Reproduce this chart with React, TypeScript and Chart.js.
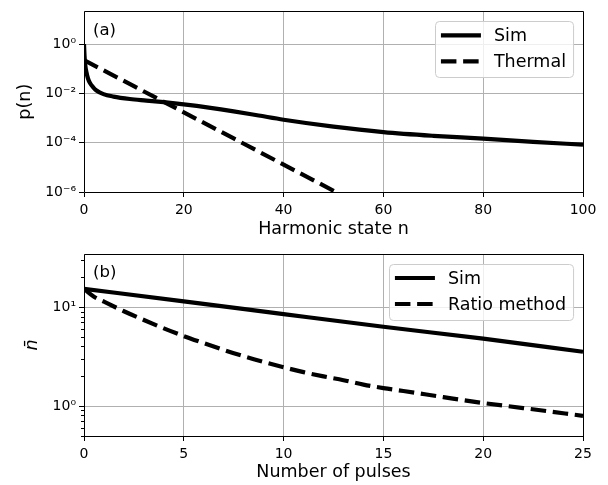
import React, { useEffect, useRef } from "react";
import { Chart, registerables } from "chart.js";

Chart.register(...registerables);
Chart.defaults.font.family = "'DejaVu Sans', sans-serif";
Chart.defaults.color = "#000";

// ---------- Panel (a) data ----------
const harmonicN = [0, 0.1, 0.25, 0.5, 0.8, 1.2, 1.8, 2.5, 3.9, 5.9, 9.2, 12.5, 16, 20, 25, 30, 35, 40, 50, 60, 70, 80, 90, 100];
const simP = [1.0, 0.35, 0.14, 0.07, 0.04, 0.026, 0.018, 0.013, 0.0093, 0.0074, 0.0059, 0.0051, 0.00437, 0.00355, 0.00263, 0.00186, 0.00126, 0.00085, 0.000447, 0.000269, 0.00019, 0.000145, 0.000107, 0.000083];
const thermalN = [0, 10, 20, 30, 40, 50, 60];
const thermalP = [0.22, 0.0195, 0.0017, 0.000148, 0.0000129, 0.00000112, 0.000000098];
const topXTicks = [0, 20, 40, 60, 80, 100];
const topYTicks = [1e-6, 1e-4, 1e-2, 1];
const topYLabels = ["10⁻⁶", "10⁻⁴", "10⁻²", "10⁰"];

// ---------- Panel (b) data ----------
const pulsesSim = [0, 5, 10, 15, 20, 25];
const nbarSim = [15.5, 11.6, 8.6, 6.4, 4.85, 3.57];
const pulsesRatio = [0, 0.5, 1, 2, 3, 4, 5, 6, 7, 8, 9, 10, 11, 12, 13, 14, 15, 16, 18, 20, 22, 25];
const nbarRatio = [15.5, 12.9, 11.5, 9.2, 7.5, 6.17, 5.15, 4.37, 3.73, 3.22, 2.82, 2.49, 2.22, 2.01, 1.84, 1.66, 1.53, 1.43, 1.24, 1.08, 0.96, 0.8];
const botXTicks = [0, 5, 10, 15, 20, 25];
const botYTicks = [1, 10];
const botYLabels = ["10⁰", "10¹"];
const botYMinor = [0.5, 0.6, 0.7, 0.8, 0.9, 2, 3, 4, 5, 6, 7, 8, 9, 20, 30];

const DASH = [15.5, 6.7];
const LW = 4.2;

const al = (v: number) => Math.round(v - 0.5) + 0.5;

function framePlugin(panel: string, legend: { text: string; dash: number[] }[], minorY: number[] | null) {
  return {
    id: "frame" + panel,
    afterDraw(chart: any) {
      const { ctx, chartArea: a } = chart;
      ctx.save();
      ctx.strokeStyle = "#000";
      ctx.lineWidth = 1;
      ctx.setLineDash([]);
      if (minorY) {
        const ys = chart.scales.y;
        ctx.beginPath();
        for (const v of minorY) {
          const py = al(ys.getPixelForValue(v));
          ctx.moveTo(a.left - 3, py);
          ctx.lineTo(a.left, py);
        }
        ctx.stroke();
      }
      // spines
      ctx.beginPath();
      ctx.rect(al(a.left), al(a.top), al(a.right) - al(a.left), al(a.bottom) - al(a.top));
      ctx.stroke();

      // panel label
      ctx.font = "16.5px 'DejaVu Sans'";
      ctx.fillStyle = "#000";
      ctx.textBaseline = "middle";
      ctx.textAlign = "left";
      ctx.fillText(panel, a.left + 9, a.top + 19);

      // legend
      ctx.font = "17.5px 'DejaVu Sans'";
      const tw = Math.max(...legend.map((l) => ctx.measureText(l.text).width));
      const boxR = a.right - 9;
      const boxT = a.top + 10;
      const textX = boxR - 8 - tw;
      const lineR = textX - 13;
      const lineL = lineR - 40;
      const boxL = lineL - 5;
      const boxB = boxT + 56;
      ctx.beginPath();
      (ctx as any).roundRect(al(boxL), al(boxT), boxR - boxL, boxB - boxT, 4);
      ctx.fillStyle = "rgba(255,255,255,0.8)";
      ctx.fill();
      ctx.strokeStyle = "#cccccc";
      ctx.lineWidth = 1;
      ctx.stroke();
      legend.forEach((l, i) => {
        const y = boxT + 14 + i * 26;
        ctx.beginPath();
        ctx.strokeStyle = "#000";
        ctx.lineWidth = LW;
        ctx.lineCap = "butt";
        ctx.setLineDash(l.dash);
        ctx.moveTo(lineL, y);
        ctx.lineTo(lineR, y);
        ctx.stroke();
        ctx.setLineDash([]);
        ctx.fillStyle = "#000";
        ctx.textBaseline = "middle";
        ctx.fillText(l.text, textX, y + 1);
      });
      ctx.restore();
    },
  };
}

function makeConfig(p: {
  padTop: number;
  xMax: number;
  xTicks: number[];
  xTitle: string;
  xTitlePadBottom: number;
  xHeight: number;
  yMin: number;
  yMax: number;
  yTicks: number[];
  yLabels: string[];
  yTitle: string;
  yTitleItalic: boolean;
  yTitlePadTop: number;
  datasets: any[];
  plugin: any;
}): any {
  return {
    type: "line",
    data: { datasets: p.datasets },
    options: {
      responsive: false,
      animation: false,
      layout: { padding: { left: 0, right: 25, top: p.padTop, bottom: 0 } },
      plugins: { legend: { display: false }, tooltip: { enabled: false } },
      elements: { point: { radius: 0 } },
      scales: {
        x: {
          type: "linear",
          min: 0,
          max: p.xMax,
          afterBuildTicks: (s: any) => {
            s.ticks = p.xTicks.map((v) => ({ value: v }));
          },
          afterFit: (s: any) => {
            s.height = p.xHeight;
          },
          ticks: {
            font: { size: 14 },
            color: "#000",
            padding: 5,
            maxRotation: 0,
            autoSkip: false,
            callback: (v: any) => String(v),
          },
          grid: { color: "#b0b0b0", lineWidth: 1, tickColor: "#000", tickLength: 5, tickWidth: 1 },
          border: { display: false },
          title: {
            display: true,
            text: p.xTitle,
            color: "#000",
            font: { size: 17.5 },
            padding: { top: 0, bottom: p.xTitlePadBottom },
          },
        },
        y: {
          type: "logarithmic",
          min: p.yMin,
          max: p.yMax,
          afterBuildTicks: (s: any) => {
            s.ticks = p.yTicks.map((v) => ({ value: v }));
          },
          afterFit: (s: any) => {
            s.width = 84;
          },
          ticks: {
            font: { size: 14 },
            color: "#000",
            padding: 3,
            autoSkip: false,
            callback: (v: any) => {
              const i = p.yTicks.findIndex((t) => Math.abs(t - v) / t < 1e-6);
              return i >= 0 ? p.yLabels[i] : "";
            },
          },
          grid: { color: "#b0b0b0", lineWidth: 1, tickColor: "#000", tickLength: 5, tickWidth: 1 },
          border: { display: false },
          title: {
            display: true,
            text: p.yTitle,
            color: "#000",
            font: { size: 17.5, style: p.yTitleItalic ? "italic" : "normal" },
            padding: { top: p.yTitlePadTop, bottom: 0 },
          },
        },
      },
    },
    plugins: [p.plugin],
  };
}

function line(label: string, xs: number[], ys: number[], dash: number[], smooth: boolean) {
  return {
    label,
    data: xs.map((x, i) => ({ x, y: ys[i] })),
    borderColor: "#000",
    borderWidth: LW,
    borderDash: dash,
    borderCapStyle: "butt",
    borderJoinStyle: "round",
    fill: false,
    pointRadius: 0,
    tension: 0,
    cubicInterpolationMode: smooth ? "monotone" : "default",
    clip: 0,
  };
}

const topConfig = () =>
  makeConfig({
    padTop: 9,
    xMax: 100,
    xTicks: topXTicks,
    xTitle: "Harmonic state n",
    xTitlePadBottom: 0,
    xHeight: 48,
    yMin: 1e-6,
    yMax: 21,
    yTicks: topYTicks,
    yLabels: topYLabels,
    yTitle: "p(n)",
    yTitleItalic: false,
    yTitlePadTop: 14.5,
    datasets: [
      line("Sim", harmonicN, simP, [], true),
      line("Thermal", thermalN, thermalP, DASH, false),
    ],
    plugin: framePlugin(
      "(a)",
      [
        { text: "Sim", dash: [] },
        { text: "Thermal", dash: DASH },
      ],
      null
    ),
  });

const bottomConfig = () =>
  makeConfig({
    padTop: 14,
    xMax: 25,
    xTicks: botXTicks,
    xTitle: "Number of pulses",
    xTitlePadBottom: 2.5,
    xHeight: 49,
    yMin: 0.5,
    yMax: 35,
    yTicks: botYTicks,
    yLabels: botYLabels,
    yTitle: "n\u0304",
    yTitleItalic: true,
    yTitlePadTop: 21.5,
    datasets: [
      line("Sim", pulsesSim, nbarSim, [], true),
      line("Ratio method", pulsesRatio, nbarRatio, DASH, true),
    ],
    plugin: framePlugin(
      "(b)",
      [
        { text: "Sim", dash: [] },
        { text: "Ratio method", dash: DASH },
      ],
      botYMinor
    ),
  });

function Panel({ make, top, height }: { make: () => any; top: number; height: number }) {
  const ref = useRef<HTMLCanvasElement>(null);
  useEffect(() => {
    const chart = new Chart(ref.current as HTMLCanvasElement, make());
    return () => chart.destroy();
  }, []);
  return (
    <canvas
      ref={ref}
      width={608}
      height={height}
      style={{ position: "absolute", left: 0, top, width: 608, height, display: "block" }}
    />
  );
}

export default function App() {
  return (
    <div style={{ position: "absolute", left: 0, top: 0, width: 608, height: 485, background: "#fff" }}>
      <Panel make={topConfig} top={0} height={240} />
      <Panel make={bottomConfig} top={240} height={245} />
    </div>
  );
}
